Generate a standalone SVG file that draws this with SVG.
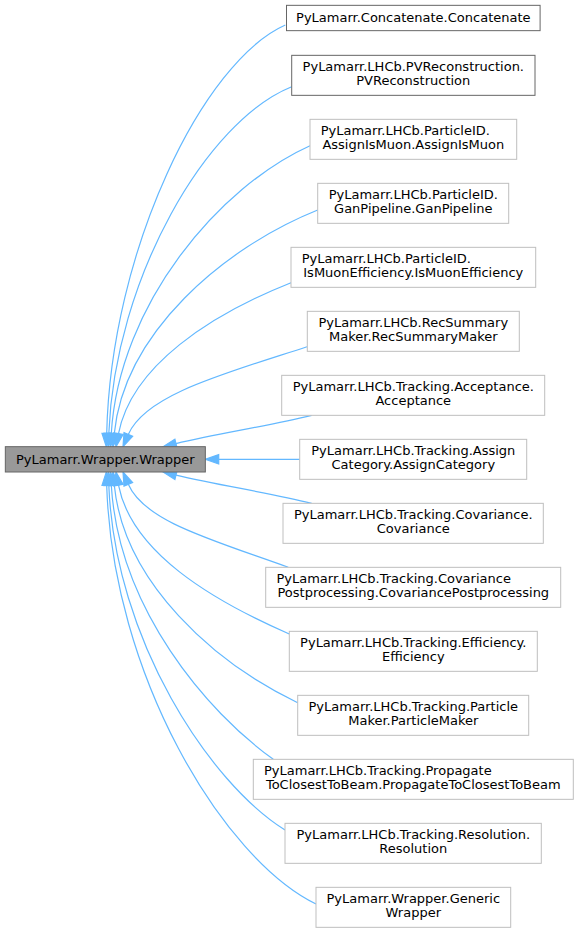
<svg xmlns="http://www.w3.org/2000/svg" width="579" height="933" viewBox="0 0 579 933">
<style>
text{font-family:"DejaVu Sans","Liberation Sans",sans-serif;font-size:13px;fill:#000}
.m{text-anchor:middle}
.s{text-anchor:start}
.doc{fill:#fff;stroke:#666;stroke-width:1}
.und{fill:#fff;stroke:#bfbfbf;stroke-width:1}
.cur{fill:#999;stroke:#666;stroke-width:1}
.e path{fill:none;stroke:#63b8ff;stroke-width:1.2}
.e polygon{fill:#63b8ff;stroke:#63b8ff;stroke-width:1.2}
</style>
<rect width="579" height="933" fill="#fff"/>
<g class="e" id="edges">
<path d="M106.7,433.4 C111,250 203.1,61.6 285.3,25"/>
<polygon points="111.4,433.5 106.3,446.7 102,433.3"/>
<path d="M108.8,433.4 C115,277.4 207.2,120.5 291.7,86.7"/>
<polygon points="113.5,433.6 108.3,446.7 104.1,433.2"/>
<path d="M111.3,433.4 C119.1,303.9 219.8,186.3 310,145.7"/>
<polygon points="116,433.7 110.5,446.7 106.6,433.1"/>
<path d="M114.3,433.4 C124.4,332.9 223.3,247.9 317.7,210"/>
<polygon points="119,433.9 113,446.7 109.7,433"/>
<path d="M118.5,433.6 C131.7,365.7 210.8,314.6 291,282.7"/>
<polygon points="123.1,434.5 116,446.7 113.9,432.7"/>
<path d="M128.3,434.4 C145.5,394.9 222.1,374.4 307,346.7"/>
<polygon points="132.6,436.3 123,446.7 124,432.6"/>
<path d="M176,443.6 C219.7,433.2 268,426.1 311.7,415.3"/>
<polygon points="177.1,448.1 163,446.7 174.9,439.1"/>
<path d="M218.7,459.3 L299.7,459.3"/>
<polygon points="218.7,464 205.3,459.3 218.7,454.6"/>
<path d="M176,475.1 C219.7,485.5 268,492.5 311.7,503.3"/>
<polygon points="174.9,479.6 163,472 177.1,470.6"/>
<path d="M128.3,484.3 C144.5,521.7 213.1,540.1 288.3,567.3"/>
<polygon points="124,486.2 123,472 132.6,482.5"/>
<path d="M118.5,485.1 C131.5,552.1 211.2,599.8 289.3,634"/>
<polygon points="113.9,486 116,472 123.1,484.2"/>
<path d="M114.3,485.3 C124.1,583.1 215.2,663.3 297.7,702.7"/>
<polygon points="109.7,485.8 113,472 119,484.9"/>
<path d="M111.3,485.3 C118.7,608.6 207.3,712.3 273.3,759.3"/>
<polygon points="106.6,485.6 110.5,472 116,485"/>
<path d="M108.8,485.3 C115,640.4 210.1,783.3 285,830"/>
<polygon points="104.1,485.5 108.3,472 113.5,485.1"/>
<path d="M106.7,485.3 C112.4,673.7 222,858 316,904"/>
<polygon points="102,485.4 106.3,472 111.4,485.2"/>
</g>
<g id="wrapper">
<rect class="cur" x="5.33" y="446.67" width="200" height="25.33"/>
<text class="m" x="105.3" y="463.5">PyLamarr.Wrapper.Wrapper</text>
</g>
<g id="concatenate">
<rect class="doc" x="286.5" y="5.33" width="253.6" height="25.33"/>
<text class="m" x="413.3" y="21.8">PyLamarr.Concatenate.Concatenate</text>
</g>
<g id="pvreconstruction">
<rect class="doc" x="291.7" y="55.33" width="243.3" height="40"/>
<text class="m" x="413.3" y="71">PyLamarr.LHCb.PVReconstruction.</text>
<text class="m" x="413.3" y="85.3">PVReconstruction</text>
</g>
<g id="assignismuon">
<rect class="und" x="310" y="119.33" width="206.7" height="40"/>
<text class="s" x="320.7" y="135">PyLamarr.LHCb.ParticleID.</text>
<text class="m" x="413.3" y="149.3">AssignIsMuon.AssignIsMuon</text>
</g>
<g id="ganpipeline">
<rect class="und" x="317.7" y="183.33" width="191" height="40"/>
<text class="m" x="413.3" y="199">PyLamarr.LHCb.ParticleID.</text>
<text class="m" x="413.3" y="213.3">GanPipeline.GanPipeline</text>
</g>
<g id="ismuonefficiency">
<rect class="und" x="291" y="247.33" width="244.7" height="40"/>
<text class="s" x="301.7" y="263">PyLamarr.LHCb.ParticleID.</text>
<text class="m" x="413.3" y="277.3">IsMuonEfficiency.IsMuonEfficiency</text>
</g>
<g id="recsummarymaker">
<rect class="und" x="307.3" y="311.33" width="212" height="40"/>
<text class="m" x="413.3" y="327">PyLamarr.LHCb.RecSummary</text>
<text class="m" x="413.3" y="341.3">Maker.RecSummaryMaker</text>
</g>
<g id="acceptance">
<rect class="und" x="281.7" y="375.33" width="263" height="40"/>
<text class="m" x="413.3" y="391">PyLamarr.LHCb.Tracking.Acceptance.</text>
<text class="m" x="413.3" y="405.3">Acceptance</text>
</g>
<g id="assigncategory">
<rect class="und" x="299.7" y="439.33" width="227" height="40"/>
<text class="m" x="413.3" y="455">PyLamarr.LHCb.Tracking.Assign</text>
<text class="m" x="413.3" y="469.3">Category.AssignCategory</text>
</g>
<g id="covariance">
<rect class="und" x="283" y="503.33" width="260.3" height="40"/>
<text class="m" x="413.3" y="519">PyLamarr.LHCb.Tracking.Covariance.</text>
<text class="m" x="413.3" y="533.3">Covariance</text>
</g>
<g id="covariancepostprocessing">
<rect class="und" x="265.7" y="567.33" width="295" height="40"/>
<text class="s" x="276.4" y="583">PyLamarr.LHCb.Tracking.Covariance</text>
<text class="m" x="413.3" y="597.3">Postprocessing.CovariancePostprocessing</text>
</g>
<g id="efficiency">
<rect class="und" x="289.3" y="631.33" width="248" height="40"/>
<text class="m" x="413.3" y="647">PyLamarr.LHCb.Tracking.Efficiency.</text>
<text class="m" x="413.3" y="661.3">Efficiency</text>
</g>
<g id="particlemaker">
<rect class="und" x="297.7" y="695.33" width="231" height="40"/>
<text class="m" x="413.3" y="711">PyLamarr.LHCb.Tracking.Particle</text>
<text class="m" x="413.3" y="725.3">Maker.ParticleMaker</text>
</g>
<g id="propagatetoclosesttobeam">
<rect class="und" x="253.3" y="759.33" width="320" height="40"/>
<text class="s" x="264" y="775">PyLamarr.LHCb.Tracking.Propagate</text>
<text class="m" x="413.3" y="789.3">ToClosestToBeam.PropagateToClosestToBeam</text>
</g>
<g id="resolution">
<rect class="und" x="285" y="823.33" width="256.3" height="40"/>
<text class="m" x="413.3" y="839">PyLamarr.LHCb.Tracking.Resolution.</text>
<text class="m" x="413.3" y="853.3">Resolution</text>
</g>
<g id="genericwrapper">
<rect class="und" x="316" y="887.33" width="194.7" height="40"/>
<text class="m" x="413.3" y="903">PyLamarr.Wrapper.Generic</text>
<text class="m" x="413.3" y="917.3">Wrapper</text>
</g>
</svg>
